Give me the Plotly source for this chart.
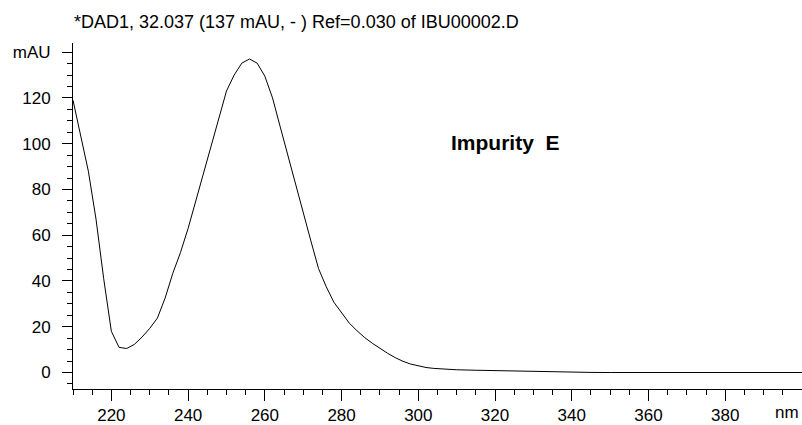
import plotly.graph_objects as go

# Spectrum data (wavelength nm, absorbance mAU)
wavelength = [210, 212, 214, 216, 218, 220, 222, 224, 226, 228, 230, 232, 234, 236, 238,
              240, 242, 244, 246, 248, 250, 252, 254, 256, 258, 260, 262, 264, 266, 268,
              270, 272, 274, 276, 278, 280, 282, 284, 286, 288, 290, 292, 294, 296, 298,
              300, 302, 304, 306, 308, 310, 315, 320, 325, 330, 335, 340, 345, 350, 355,
              360, 365, 370, 375, 380, 385, 390, 395, 400]
absorbance = [119, 104, 88, 67, 41, 18, 11, 10.5, 12.3, 15.5, 19.3, 23.8, 32.5, 43.3, 52.4,
              63, 75, 87, 99, 111, 123, 130, 135.2, 137, 135.2, 129.5, 120, 107.4, 94.7, 82,
              69.8, 57.5, 45.4, 37.5, 30.7, 26.2, 21.6, 18.3, 15.3, 12.8, 10.4, 8.4, 6.5, 4.9, 3.7,
              2.8, 2.2, 1.8, 1.5, 1.3, 1.2, 1.0, 0.8, 0.6, 0.4, 0.2, 0.1, 0.05, 0, 0,
              -0.1, -0.2, -0.3, -0.3, -0.2, -0.2, -0.3, -0.1, 0]

x_tick_vals = [220, 240, 260, 280, 300, 320, 340, 360, 380]
x_tick_text = ["220", "240", "260", "280", "300", "320", "340", "360", "380"]
y_tick_vals = [0, 20, 40, 60, 80, 100, 120, 140]
y_tick_text = ["0", "20", "40", "60", "80", "100", "120", "mAU"]

title_text = "*DAD1, 32.037 (137 mAU, - ) Ref=0.030 of IBU00002.D"
label_text = "Impurity  E"

FONT = "Liberation Sans, Arial, sans-serif"
FS = 17

fig = go.Figure()
fig.add_trace(go.Scatter(x=wavelength, y=absorbance, mode="lines",
                         line=dict(color="black", width=1), hoverinfo="skip",
                         showlegend=False))

fig.update_layout(
    width=802, height=425,
    margin=dict(l=73, r=0, t=43, b=33),
    paper_bgcolor="white", plot_bgcolor="white",
    font=dict(family=FONT, size=FS, color="black"),
    showlegend=False,
)

fig.update_xaxes(
    range=[210, 400], showgrid=False, zeroline=False,
    showline=True, linecolor="black", linewidth=1,
    tickmode="array", tickvals=x_tick_vals, ticktext=x_tick_text,
    ticks="outside", ticklen=11, tickcolor="black", tickwidth=1,
    tickfont=dict(family=FONT, size=FS, color="black"),
    minor=dict(ticks="outside", ticklen=5, tickcolor="black", tickwidth=1,
               dtick=5, tick0=0, showgrid=False),
)
fig.update_yaxes(
    range=[-7.2, 144], showgrid=False, zeroline=False,
    showline=True, linecolor="black", linewidth=1,
    tickmode="array", tickvals=y_tick_vals, ticktext=y_tick_text,
    ticks="outside", ticklen=10, tickcolor="black", tickwidth=1,
    ticklabelstandoff=8,
    tickfont=dict(family=FONT, size=FS, color="black"),
    minor=dict(ticks="outside", ticklen=5, tickcolor="black", tickwidth=1,
               dtick=5, tick0=0, showgrid=False),
)

fig.add_annotation(text=title_text, xref="paper", yref="paper",
                   x=-0.002, y=1, xanchor="left", yanchor="bottom", yshift=9,
                   showarrow=False, font=dict(family=FONT, size=18, color="black"))
fig.add_annotation(text="<b>" + label_text + "</b>", xref="x", yref="y",
                   x=322.7, y=100.4, xanchor="center", yanchor="middle",
                   showarrow=False, font=dict(family=FONT, size=21, color="black"))
fig.add_annotation(text="nm", xref="x", yref="paper",
                   x=396.0, y=0, xanchor="center", yanchor="top", yshift=-12,
                   showarrow=False, font=dict(family=FONT, size=FS, color="black"))

fig.write_html("out.html",
               config={"displayModeBar": False},
               post_script="document.body.style.margin='0';"
                           "document.body.style.overflow='hidden';")
